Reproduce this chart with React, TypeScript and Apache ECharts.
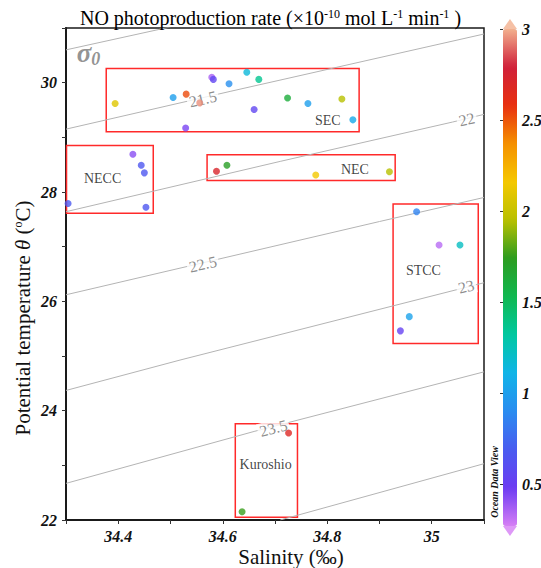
import React, { useEffect, useRef } from 'react';
import * as echarts from 'echarts';

const FONT = "'Liberation Serif', 'Times New Roman', serif";

// Station samples: salinity (‰), potential temperature (°C), NO photoproduction rate
const salinity = [
  34.394, 34.505, 34.530, 34.556, 34.579, 34.582, 34.612, 34.646, 34.669, 34.724,
  34.763, 34.660, 34.828, 34.849, 34.529,
  34.428, 34.444, 34.450, 34.304, 34.453,
  34.588, 34.608, 34.778, 34.919,
  34.971, 35.014, 35.054, 34.957, 34.940,
  34.726, 34.637,
];
const temperature = [
  29.62, 29.73, 29.79, 29.63, 30.10, 30.06, 29.98, 30.19, 30.06, 29.72,
  29.62, 29.51, 29.70, 29.32, 29.17,
  28.69, 28.49, 28.35, 27.79, 27.72,
  28.38, 28.49, 28.31, 28.37,
  27.64, 27.03, 27.03, 25.72, 25.46,
  23.59, 22.15,
];
const rate = [
  2.08, 1.0, 2.52, 2.95, 0.36, 0.55, 0.92, 1.15, 1.36, 1.62,
  1.0, 0.55, 1.95, 1.05, 0.45,
  0.42, 0.66, 0.66, 0.68, 0.66,
  2.72, 1.72, 2.15, 1.95,
  0.86, 0.33, 1.22, 1.02, 0.52,
  2.68, 1.76,
];

// Water-mass boxes
const regionNames = ['SEC', 'NECC', 'NEC', 'STCC', 'Kuroshio'];
const regionSalMin = [34.377, 34.301, 34.570, 34.926, 34.624];
const regionSalMax = [34.861, 34.467, 34.930, 35.089, 34.743];
const regionTempMin = [29.10, 27.61, 28.21, 25.23, 22.05];
const regionTempMax = [30.26, 28.85, 28.68, 27.78, 23.76];
const regionLabelSal = [34.801, 34.370, 34.853, 34.984, 34.682];
const regionLabelTemp = [29.305, 28.251, 28.416, 26.555, 23.019];

// Isopycnals (sigma-0)
const isoLevels = ['21', '21.5', '22', '22.5', '23', '23.5', '24'];
const isoSal = [
  [34.3, 34.5],
  [34.3, 34.614, 35.1],
  [34.3, 34.71, 35.04, 35.1],
  [34.3, 34.9, 35.1],
  [34.3, 34.52, 35.1],
  [34.3, 34.66, 35.1],
  [34.71, 35.1],
];
const isoTemp = [
  [30.60, 31.02],
  [29.15, 29.84, 30.89],
  [27.64, 28.56, 29.28, 29.42],
  [26.12, 27.46, 27.90],
  [24.37, 24.93, 26.34],
  [22.67, 23.62, 24.71],
  [22.0, 23.03],
];
const isoLabelText = ['21.5', '22', '22.5', '23', '23.5'];
const isoLabelSal = [34.562, 35.067, 34.562, 35.066, 34.697];
const isoLabelTemp = [29.70, 29.33, 26.68, 26.27, 23.68];
const isoLabelAngle = [13, 13, 13, 14, 15];
const sigmaLabelPos = [34.343, 30.54];

// Axes
const xTickLabels = [34.4, 34.6, 34.8, 35];
const xTicks = [34.3, 34.4, 34.5, 34.6, 34.7, 34.8, 34.9, 35.0, 35.1];
const yTickLabels = [22, 24, 26, 28, 30];
const yTicks = [22, 23, 24, 25, 26, 27, 28, 29, 30, 31];

// Colour bar
const cbMin = 0.27;
const cbMax = 3;
const cbTicks = [0.5, 1, 1.5, 2, 2.5, 3];
const cbColors = [
  '#d67ef5', '#6c3cf2', '#4a5cf0', '#2a8cf0', '#10b4e8', '#00c8a0', '#10b850',
  '#2c9c20', '#b8c000', '#f5c800', '#f59000', '#e83010', '#d0203a', '#f2b08e',
];

const tickLabelStyle = {
  fontFamily: FONT,
  fontWeight: 'bold' as const,
  fontStyle: 'italic' as const,
  fontSize: 16,
  color: '#111',
};

function buildOption() {
  const points = salinity.map((s, i) => [s, temperature[i], rate[i]]);
  const isoSeries = isoLevels.map((lv, i) => ({
    name: 'sigma ' + lv,
    type: 'line',
    xAxisIndex: 0,
    yAxisIndex: 0,
    data: isoSal[i].map((s, j) => [s, isoTemp[i][j]]),
    symbol: 'none',
    silent: true,
    clip: true,
    z: 1,
    lineStyle: { color: '#b4b4b4', width: 1 },
  }));

  const isoLabelData: any[] = isoLabelText.map((t, i) => ({
    value: [isoLabelSal[i], isoLabelTemp[i]],
    label: { rotate: isoLabelAngle[i], formatter: t },
  }));
  isoLabelData.push({
    value: sigmaLabelPos,
    label: {
      formatter: '{a|σ}{b|0}',
      backgroundColor: 'transparent',
      rich: {
        a: { fontFamily: FONT, fontWeight: 'bold', fontStyle: 'italic', fontSize: 27, color: '#777' },
        b: { fontFamily: FONT, fontWeight: 'bold', fontStyle: 'italic', fontSize: 18, color: '#777', padding: [12, 0, 0, 0] },
      },
    },
  });

  return {
    animation: false,
    backgroundColor: '#fff',
    title: {
      text: '{n|NO photoproduction rate (×10}{s|-10}{n| mol L}{s|-1}{n| min}{s|-1}{n| )}',
      left: 'center',
      top: 3,
      textStyle: {
        fontWeight: 'normal',
        rich: {
          n: { fontFamily: FONT, fontWeight: 'normal', fontSize: 20, color: '#000' },
          s: { fontFamily: FONT, fontWeight: 'normal', fontSize: 12, color: '#000', verticalAlign: 'top', padding: [0, 0, 6, 0] },
        },
      },
    },
    grid: [
      {
        left: 66, right: 57, top: 28, bottom: 48,
        outerBoundsMode: 'none',
        show: true, borderColor: '#1a1a1a', borderWidth: 1.5, backgroundColor: 'transparent',
      },
      { left: 503, top: 29, width: 14, height: 497, outerBoundsMode: 'none' },
    ],
    xAxis: [
      {
        type: 'value',
        gridIndex: 0,
        min: 34.3,
        max: 35.1,
        name: '{t|Salinity (‰)}',
        nameLocation: 'middle',
        nameGap: 26,
        nameMoveOverlap: false,
        nameTextStyle: {
          fontFamily: FONT,
          fontSize: 21,
          color: '#111',
          padding: [0, 0, 0, 32],
          rich: { t: { fontFamily: FONT, fontSize: 21, color: '#111' } },
        },
        splitLine: { show: false },
        axisLine: { lineStyle: { color: '#1a1a1a', width: 2 } },
        axisTick: { customValues: xTicks, length: 4, lineStyle: { color: '#333' } },
        axisLabel: { ...tickLabelStyle, customValues: xTickLabels, margin: 8 },
      },
      { type: 'value', gridIndex: 1, min: 0, max: 1, show: false },
    ],
    yAxis: [
      {
        type: 'value',
        gridIndex: 0,
        min: 22,
        max: 31,
        name: 'Potential temperature {i|θ} ({s|o}C)',
        nameLocation: 'middle',
        nameRotate: 90,
        nameGap: 33,
        nameMoveOverlap: false,
        nameTextStyle: {
          fontFamily: FONT,
          fontSize: 21,
          color: '#111',
          padding: [0, 88, 0, 0],
          rich: {
            i: { fontFamily: FONT, fontStyle: 'italic', fontSize: 21, color: '#111' },
            s: { fontFamily: FONT, fontSize: 12, color: '#111', verticalAlign: 'top', padding: [0, 0, 6, 0] },
          },
        },
        splitLine: { show: false },
        axisLine: { lineStyle: { color: '#1a1a1a', width: 2 } },
        axisTick: { customValues: yTicks, length: 4, lineStyle: { color: '#333' } },
        axisLabel: { ...tickLabelStyle, customValues: yTickLabels, margin: 9 },
      },
      {
        type: 'value',
        gridIndex: 1,
        min: cbMin,
        max: cbMax,
        position: 'right',
        splitLine: { show: false },
        axisLine: { show: false },
        axisTick: { inside: true, length: 3, customValues: cbTicks, lineStyle: { color: '#333' } },
        axisLabel: { ...tickLabelStyle, customValues: cbTicks, margin: 5 },
      },
    ],
    visualMap: {
      type: 'continuous',
      seriesIndex: 0,
      dimension: 2,
      min: cbMin,
      max: cbMax,
      left: 503,
      top: 29,
      itemWidth: 14,
      itemHeight: 497,
      padding: 0,
      calculable: false,
      hoverLink: false,
      inRange: { color: cbColors },
    },
    graphic: [
      {
        type: 'text',
        x: 494,
        y: 482,
        rotation: Math.PI / 2,
        style: {
          text: 'Ocean Data View',
          fontFamily: FONT,
          fontWeight: 'bold',
          fontStyle: 'italic',
          fontSize: 10,
          fill: '#111',
          textAlign: 'center',
          textVerticalAlign: 'middle',
        },
      },
    ],
    series: [
      {
        name: 'NO photoproduction',
        type: 'scatter',
        xAxisIndex: 0,
        yAxisIndex: 0,
        data: points,
        symbolSize: 7,
        z: 5,
      },
      ...isoSeries,
      {
        name: 'isopycnal labels',
        type: 'scatter',
        xAxisIndex: 0,
        yAxisIndex: 0,
        data: isoLabelData,
        symbolSize: 0,
        silent: true,
        z: 2,
        label: {
          show: true,
          position: 'inside',
          fontFamily: FONT,
          fontSize: 16,
          color: '#6e6e6e',
          backgroundColor: '#fff',
          padding: [0, 2],
        },
      },
      {
        name: 'regions',
        type: 'scatter',
        xAxisIndex: 0,
        yAxisIndex: 0,
        data: regionNames.map((n, i) => ({ name: n, value: [regionLabelSal[i], regionLabelTemp[i]] })),
        symbolSize: 0,
        silent: true,
        z: 3,
        label: {
          show: true,
          position: 'inside',
          formatter: '{b}',
          fontFamily: FONT,
          fontSize: 14,
          color: '#111',
        },
        markArea: {
          silent: true,
          itemStyle: { color: 'rgba(0,0,0,0)', borderColor: '#ff2a2a', borderWidth: 1.5 },
          label: { show: false },
          data: regionNames.map((n, i) => [
            { name: n, xAxis: regionSalMin[i], yAxis: regionTempMax[i] },
            { xAxis: regionSalMax[i], yAxis: regionTempMin[i] },
          ]),
        },
      },
      {
        name: 'colorbar ends',
        type: 'scatter',
        xAxisIndex: 1,
        yAxisIndex: 1,
        clip: false,
        silent: true,
        symbol: 'triangle',
        symbolSize: [14, 10],
        data: [
          { value: [0.5, cbMax], symbolOffset: [0, -5], itemStyle: { color: cbColors[cbColors.length - 1] } },
          { value: [0.5, cbMin], symbolRotate: 180, symbolOffset: [0, 5], itemStyle: { color: cbColors[0] } },
        ],
      },
    ],
  };
}

export default function App() {
  const ref = useRef<HTMLDivElement>(null);
  useEffect(() => {
    if (!ref.current) return;
    const chart = echarts.init(ref.current, null, { renderer: 'svg' });
    chart.setOption(buildOption() as any);
    return () => chart.dispose();
  }, []);
  return (
    <div
      ref={ref}
      style={{ position: 'fixed', left: 0, top: 0, width: 541, height: 568, background: '#fff' }}
    />
  );
}
